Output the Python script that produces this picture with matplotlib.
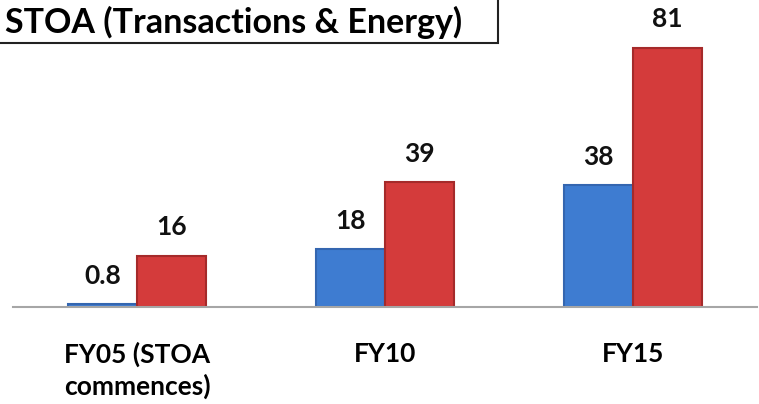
import matplotlib
matplotlib.use("Agg")
import matplotlib.pyplot as plt
from matplotlib.patches import Rectangle

categories = ["FY05 (STOA\ncommences)", "FY10", "FY15"]
transactions = [0.8, 18, 38]
energy = [16, 39, 81]
value_labels_t = ["0.8", "18", "38"]
value_labels_e = ["16", "39", "81"]
title = "STOA (Transactions & Energy)"

plt.rcParams["font.family"] = ["Lato", "DejaVu Sans"]
plt.rcParams["font.weight"] = "bold"

fig = plt.figure(figsize=(7.59, 4.04), dpi=100)
ax = fig.add_axes([13 / 759, 97 / 404, 744 / 759, 307 / 404])

w = 0.28
x = list(range(len(categories)))
xt = [i - w / 2 for i in x]
xe = [i + w / 2 for i in x]

ax.bar(xt, transactions, width=w, color="#3e7cd1", edgecolor="#3466b0", linewidth=1.5)
ax.bar(xe, energy, width=w, color="#d43b3b", edgecolor="#a52a2a", linewidth=1.5)

for xi, v, s in zip(xt, transactions, value_labels_t):
    ax.annotate(s, (xi, v), xytext=(0, 20.5), textcoords="offset points",
                ha="center", va="center", fontsize=19, fontweight="bold", color="#111111")
for xi, v, s in zip(xe, energy, value_labels_e):
    ax.annotate(s, (xi, v), xytext=(0, 20.5), textcoords="offset points",
                ha="center", va="center", fontsize=19, fontweight="bold", color="#111111")

ax.set_xlim(-0.5, len(categories) - 0.5)
ax.set_ylim(0, 96)
ax.set_xticks(x)
ax.set_xticklabels(categories, fontsize=19, fontweight="bold", linespacing=1.3)
ax.tick_params(axis="x", length=0, pad=25)
ax.set_yticks([])
for side in ["left", "right", "top"]:
    ax.spines[side].set_visible(False)
ax.spines["bottom"].set_color("#a6a6a6")
ax.spines["bottom"].set_linewidth(1.5)

# title box in the top-left corner
fig.patches.append(Rectangle((-0.01, 1 - 43 / 404), 498 / 759 + 0.01, 0.2,
                             transform=fig.transFigure, fill=False,
                             edgecolor="#222222", linewidth=1.5, clip_on=False))
fig.text(5 / 759, 1 - 22 / 404, title, ha="left", va="center",
         fontsize=24.5, fontweight="bold", color="black")

fig.savefig("out.png", dpi=100)
